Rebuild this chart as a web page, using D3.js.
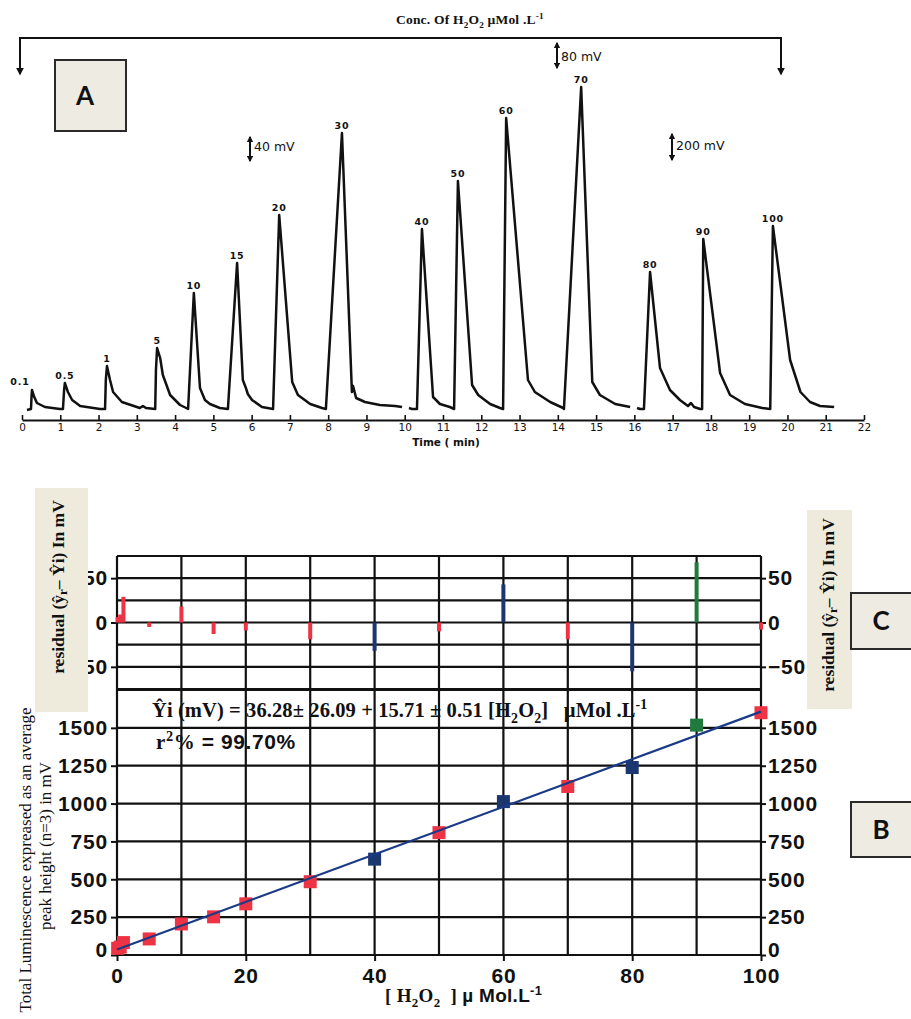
<!DOCTYPE html>
<html>
<head>
<meta charset="utf-8">
<script src="https://cdn.jsdelivr.net/npm/d3@7"></script>
<style>
    body { margin: 0; background: #ffffff; }
</style>
</head>
<body>
<svg id="chart" width="911" height="1019"></svg>
<script>
// ---------------------------------------------------------------------------
// Panel A data: chemiluminescence trace, time in min, height in relative units
// ---------------------------------------------------------------------------
const timeTicks = [0, 1, 2, 3, 4, 5, 6, 7, 8, 9, 10, 11, 12, 13, 14, 15, 16, 17, 18, 19, 20, 21, 22];

const peakLabels  = ["0.1", "0.5", "1", "5", "10", "15", "20", "30", "40", "50", "60", "70", "80", "90", "100"];
const peakTimes   = [0.26, 1.12, 2.22, 3.53, 4.49, 5.62, 6.72, 8.36, 10.45, 11.39, 12.65, 14.61, 16.41, 17.80, 19.62];
const peakHeights = [20, 27, 44, 62, 117, 147, 195, 277, 181, 229, 292, 323, 138, 171, 184];

// recorder trace, three pieces (the pen was lifted around 10 and 16 min)
const traceSeg1 = [
    [0.13, 0], [0.235, 1], [0.25, 14], [0.26, 20], [0.31, 14], [0.39, 7], [0.60, 3], [0.99, 1],
    [1.07, 1], [1.10, 20], [1.12, 27], [1.20, 18], [1.31, 10], [1.52, 4], [2.04, 1],
    [2.17, 1], [2.19, 30], [2.22, 44], [2.30, 30], [2.38, 18], [2.61, 8], [3.08, 2], [3.16, 4], [3.24, 2], [3.48, 1],
    [3.50, 40], [3.53, 62], [3.61, 52], [3.68, 35], [3.87, 15], [4.13, 5], [4.29, 2],
    [4.34, 1], [4.49, 117], [4.65, 22], [4.78, 10], [4.91, 6], [5.17, 2],
    [5.38, 1], [5.62, 147], [5.77, 30], [5.85, 22], [5.90, 16], [6.01, 10], [6.27, 3], [6.56, 1],
    [6.72, 195], [7.06, 28], [7.21, 15], [7.53, 6], [7.84, 2],
    [7.94, 1], [8.36, 277], [8.62, 18], [8.65, 24], [8.73, 12], [8.96, 8], [9.35, 5], [9.75, 4], [9.93, 3]
];
const traceSeg2 = [
    [10.11, 2], [10.19, 1], [10.32, 1], [10.45, 181], [10.74, 13], [10.92, 6], [11.18, 3],
    [11.29, 1], [11.39, 229], [11.76, 25], [11.92, 15], [12.23, 6], [12.49, 2],
    [12.57, 1], [12.65, 292], [13.22, 30], [13.40, 18], [13.80, 8], [14.14, 2],
    [14.16, 1], [14.61, 323], [14.90, 28], [15.10, 15], [15.50, 6], [15.89, 3]
];
const traceSeg3 = [
    [16.07, 2], [16.15, 1], [16.25, 1], [16.41, 138], [16.67, 42], [16.93, 20], [17.19, 10], [17.40, 4],
    [17.48, 7], [17.56, 3], [17.72, 1],
    [17.77, 1], [17.80, 171], [18.24, 37], [18.50, 15], [18.89, 6], [19.34, 2],
    [19.55, 1], [19.62, 184], [20.07, 50], [20.34, 18], [20.59, 8], [20.85, 4], [21.22, 3]
];

// ---------------------------------------------------------------------------
// Panel B / C data: calibration points and residuals
// ---------------------------------------------------------------------------
const concentrations = [0.1, 0.5, 1, 5, 10, 15, 20, 30, 40, 50, 60, 70, 80, 90, 100];
const luminescence   = [44, 52, 82, 106, 205, 252, 338, 484, 633, 808, 1013, 1113, 1238, 1518, 1600];
const residuals      = [6, 9, 29, -5, 18, -13, -9, -19, -32, -10, 43, -19, -55, 68, -8];
const pointGroups    = ["red", "red", "red", "red", "red", "red", "red", "red", "blue", "red", "blue", "red", "blue", "green", "red"];

const concTicks  = [0, 20, 40, 60, 80, 100];
const concGrid   = [0, 10, 20, 30, 40, 50, 60, 70, 80, 90, 100];
const lumTicks   = [0, 250, 500, 750, 1000, 1250, 1500];
const lumGrid    = [0, 250, 500, 750, 1000, 1250, 1500, 1750];
const residTicks = [-50, 0, 50];
const residGrid  = [-75, -50, -25, 0, 25, 50, 75];

const fitIntercept = 36.28;
const fitSlope = 15.71;

const groupColor = { red: "#ee3344", blue: "#1c3670", green: "#1f7a3b" };

const SERIF = "'Liberation Serif', 'Times New Roman', serif";
const SANS = "'Liberation Sans', Arial, sans-serif";
const VERD = "'DejaVu Sans', Verdana, sans-serif";

const svg = d3.select("#chart");

/**
 * addMarkers
 *
 * Purpose: arrow heads used for the scale bars and the bracket in panel A.
 */
function addMarkers(){
    const defs = svg.append("defs");
    defs.append("marker")
        .attr("id", "smallArrow")
        .attr("viewBox", "0 0 10 10")
        .attr("refX", 8).attr("refY", 5)
        .attr("markerWidth", 3.2).attr("markerHeight", 3.2)
        .attr("orient", "auto-start-reverse")
        .append("path").attr("d", "M0,0 L10,5 L0,10 z").attr("fill", "#111");
    defs.append("marker")
        .attr("id", "bigArrow")
        .attr("viewBox", "0 0 10 10")
        .attr("refX", 8).attr("refY", 5)
        .attr("markerWidth", 4).attr("markerHeight", 4)
        .attr("orient", "auto-start-reverse")
        .append("path").attr("d", "M0,0 L10,5 L0,10 z").attr("fill", "#111");
}

/**
 * richText
 *
 * Purpose: writes a text made of parts, some of them sub- or superscripts.
 */
function richText(parent, x, y, parts, size, spacing){
    const text = parent.append("text")
        .attr("x", x).attr("y", y)
        .attr("fill", "#111")
        .style("letter-spacing", (spacing || 0) + "px");
    let shift = 0;
    parts.forEach(p => {
        const target = p.sub ? size * 0.28 : p.sup ? -size * 0.38 : 0;
        text.append("tspan")
            .attr("dy", target - shift)
            .style("font-family", p.font || SERIF)
            .style("font-weight", p.weight || "bold")
            .style("font-size", (p.sub || p.sup ? size * 0.68 : size) + "px")
            .style("white-space", "pre")
            .text(p.t);
        shift = target;
    });
    return text;
}

/**
 * labelBox
 *
 * Purpose: beige boxes with a panel letter.
 */
function labelBox(x, y, w, h, letter){
    svg.append("rect")
        .attr("x", x).attr("y", y).attr("width", w).attr("height", h)
        .attr("fill", "#eeece2").attr("stroke", "#2a2a2a").attr("stroke-width", 2);
    svg.append("text")
        .attr("x", x + 30).attr("y", y + h / 2 + 9)
        .attr("text-anchor", "middle")
        .style("font-family", "Lato, 'Open Sans', sans-serif")
        .style("font-weight", "bold").style("font-size", "26px")
        .attr("fill", "#111")
        .text(letter);
}

/**
 * drawPanelA
 *
 * Purpose: the flow-injection recorder trace with its peak labels.
 */
function drawPanelA(){
    const tScale = d3.scaleLinear().domain([0, 22]).range([22, 864]);
    const hScale = d3.scaleLinear().domain([0, 330]).range([410, 80]);

    const g = svg.append("g");

    // title and bracket
    richText(g, 396, 24, [
        { t: "Conc. Of H" }, { t: "2", sub: true }, { t: "O" }, { t: "2", sub: true },
        { t: " µMol .L" }, { t: "-1", sup: true }
    ], 13.5, 0.2);

    g.append("path")
        .attr("d", "M20,74 L20,38 L781,38 L781,74")
        .attr("fill", "none").attr("stroke", "#111").attr("stroke-width", 2)
        .attr("marker-start", "url(#bigArrow)").attr("marker-end", "url(#bigArrow)");

    // scale bars
    const bars = [
        { x: 250, y1: 137, y2: 161, label: "40 mV", ty: 151 },
        { x: 557, y1: 43, y2: 68, label: "80 mV", ty: 61 },
        { x: 672, y1: 134, y2: 160, label: "200 mV", ty: 150 }
    ];
    bars.forEach(b => {
        g.append("line")
            .attr("x1", b.x).attr("x2", b.x).attr("y1", b.y1).attr("y2", b.y2)
            .attr("stroke", "#111").attr("stroke-width", 2)
            .attr("marker-start", "url(#smallArrow)").attr("marker-end", "url(#smallArrow)");
        g.append("text")
            .attr("x", b.x + 4).attr("y", b.ty)
            .style("font-family", VERD).style("font-size", "12.5px")
            .attr("fill", "#111")
            .text(b.label);
    });

    // trace
    const line = d3.line()
        .x(d => tScale(d[0]))
        .y(d => hScale(d[1]));

    [traceSeg1, traceSeg2, traceSeg3].forEach(seg => {
        g.append("path")
            .datum(seg)
            .attr("d", line)
            .attr("fill", "none")
            .attr("stroke", "#111")
            .attr("stroke-width", 2.5)
            .attr("stroke-linejoin", "round");
    });

    // peak labels (the first two sit a bit to the left of their peak)
    g.selectAll(".peakLabel")
        .data(peakLabels)
        .enter()
        .append("text")
            .attr("class", "peakLabel")
            .attr("x", (d, i) => tScale(peakTimes[i]) - (i === 0 ? 12 : 0))
            .attr("y", (d, i) => hScale(peakHeights[i]) - (i === 0 ? 5 : 4))
            .attr("text-anchor", "middle")
            .style("font-family", VERD).style("font-weight", "bold")
            .style("font-size", "9.5px").style("letter-spacing", "0.8px")
            .attr("fill", "#111")
            .text(d => d);

    // time axis
    const axis = g.append("g")
        .attr("transform", "translate(0,420)")
        .call(d3.axisBottom(tScale).tickValues(timeTicks).tickSizeInner(-5).tickSizeOuter(0).tickPadding(4));
    axis.select(".domain").attr("stroke", "#111").attr("stroke-width", 2);
    axis.selectAll(".tick line").attr("stroke", "#111").attr("stroke-width", 1.6);
    axis.selectAll(".tick text")
        .style("font-family", VERD).style("font-size", "10.5px").attr("fill", "#111");

    g.append("text")
        .attr("x", 446).attr("y", 446)
        .attr("text-anchor", "middle")
        .style("font-family", VERD).style("font-weight", "bold").style("font-size", "10.5px")
        .attr("fill", "#111")
        .text("Time ( min)");

    labelBox(55, 60, 71, 71, "A");
}

/**
 * styleAxis
 *
 * Purpose: bold tick labels for the calibration and residual axes.
 */
function styleAxis(axis){
    axis.select(".domain").remove();
    axis.selectAll(".tick line").attr("stroke", "#111").attr("stroke-width", 2);
    axis.selectAll(".tick text")
        .style("font-family", SANS).style("font-weight", "bold")
        .style("font-size", "21px").style("letter-spacing", "0.8px")
        .attr("fill", "#111");
    return axis;
}

/**
 * drawPanelsBC
 *
 * Purpose: the calibration graph (B) and its residual plot (C) on one grid.
 */
function drawPanelsBC(){
    const cScale = d3.scaleLinear().domain([0, 100]).range([117, 761]);
    const rScale = d3.scaleLinear().domain([-75, 75]).range([689, 556]);
    const lScale = d3.scaleLinear().domain([0, 1750]).range([955, 690]);

    const g = svg.append("g");

    // grid
    g.selectAll(".vGrid")
        .data(concGrid)
        .enter()
        .append("line")
            .attr("x1", d => cScale(d)).attr("x2", d => cScale(d))
            .attr("y1", rScale(75)).attr("y2", lScale(0))
            .attr("stroke", "#111").attr("stroke-width", 2.2);
    g.selectAll(".rGrid")
        .data(residGrid)
        .enter()
        .append("line")
            .attr("x1", cScale(0)).attr("x2", cScale(100))
            .attr("y1", d => rScale(d)).attr("y2", d => rScale(d))
            .attr("stroke", "#111").attr("stroke-width", 2.2);
    g.selectAll(".lGrid")
        .data(lumGrid)
        .enter()
        .append("line")
            .attr("x1", cScale(0)).attr("x2", cScale(100))
            .attr("y1", d => lScale(d)).attr("y2", d => lScale(d))
            .attr("stroke", "#111").attr("stroke-width", 2.2);

    // axes
    const fmt = d3.format("d");
    styleAxis(g.append("g").attr("transform", "translate(117,0)")
        .call(d3.axisLeft(rScale).tickValues(residTicks).tickFormat(fmt).tickSize(6).tickPadding(3)));
    styleAxis(g.append("g").attr("transform", "translate(761,0)")
        .call(d3.axisRight(rScale).tickValues(residTicks).tickFormat(fmt).tickSize(5).tickPadding(2)));
    const lumLeft = styleAxis(g.append("g").attr("transform", "translate(117,0)")
        .call(d3.axisLeft(lScale).tickValues(lumTicks).tickFormat(fmt).tickSize(6).tickPadding(3)));
    const lumRight = styleAxis(g.append("g").attr("transform", "translate(761,0)")
        .call(d3.axisRight(lScale).tickValues(lumTicks).tickFormat(fmt).tickSize(5).tickPadding(2)));
    styleAxis(g.append("g").attr("transform", "translate(0,955)")
        .call(d3.axisBottom(cScale).tickValues(concTicks).tickFormat(fmt).tickSize(6).tickPadding(7)));

    // the zero labels sit a little above the bottom line
    [lumLeft, lumRight].forEach(a => {
        a.selectAll(".tick text").filter(d => d === 0).attr("dy", "0.08em");
    });

    // residual bars
    g.selectAll(".resid")
        .data(residuals)
        .enter()
        .append("rect")
            .attr("x", (d, i) => cScale(concentrations[i]) - 2)
            .attr("y", d => Math.min(rScale(d), rScale(0)))
            .attr("width", 4)
            .attr("height", d => Math.abs(rScale(d) - rScale(0)))
            .attr("fill", (d, i) => groupColor[pointGroups[i]]);

    // calibration squares
    g.selectAll(".point")
        .data(luminescence)
        .enter()
        .append("rect")
            .attr("x", (d, i) => cScale(concentrations[i]) - 6.5)
            .attr("y", d => lScale(d) - 6.5)
            .attr("width", 13).attr("height", 13)
            .attr("fill", (d, i) => groupColor[pointGroups[i]]);

    // fitted line
    g.append("line")
        .attr("x1", cScale(0)).attr("y1", lScale(fitIntercept))
        .attr("x2", cScale(100)).attr("y2", lScale(fitIntercept + fitSlope * 100))
        .attr("stroke", "#1b3a86").attr("stroke-width", 2.2);

    // equation and r2
    richText(g, 152, 717, [
        { t: "Ŷi (mV) = 36.28± 26.09 + 15.71 ± 0.51 [H" }, { t: "2", sub: true },
        { t: "O" }, { t: "2", sub: true }, { t: "]   µMol .L" }, { t: "-1", sup: true }
    ], 20.5, 0.1);
    richText(g, 156, 749, [
        { t: "r" }, { t: "2", sup: true }, { t: "%", font: SERIF },
        { t: " = 99.70%", font: SANS }
    ], 21, 0.6);

    // x title
    richText(g, 385, 1002, [
        { t: "[ H" }, { t: "2", sub: true }, { t: "O" }, { t: "2", sub: true },
        { t: "  ] " }, { t: "µ Mol.L", font: SANS }, { t: "-1", sup: true, font: SANS }
    ], 19, 0.3);

    // left y titles
    g.append("text")
        .attr("transform", "translate(31,860) rotate(-90)")
        .attr("text-anchor", "middle")
        .style("font-family", SERIF).style("font-size", "17px")
        .attr("fill", "#111")
        .text("Total Luminescence expreased as an average");
    g.append("text")
        .attr("transform", "translate(51,846) rotate(-90)")
        .attr("text-anchor", "middle")
        .style("font-family", SERIF).style("font-size", "17px")
        .attr("fill", "#111")
        .text("peak height (n=3) in mV");

    // residual title boxes
    [{ x: 35, y: 488, w: 53, h: 224, cx: 64, cy: 587 },
     { x: 807, y: 510, w: 45, h: 199, cx: 834, cy: 605 }].forEach(b => {
        svg.append("rect")
            .attr("x", b.x).attr("y", b.y).attr("width", b.w).attr("height", b.h)
            .attr("fill", "#eeebdd");
        const t = svg.append("text")
            .attr("transform", "translate(" + b.cx + "," + b.cy + ") rotate(-90)")
            .attr("text-anchor", "middle")
            .style("font-family", SERIF).style("font-weight", "bold").style("font-size", "17.5px")
            .attr("fill", "#111");
        t.append("tspan").text("residual (ŷ");
        t.append("tspan").attr("dy", 3).style("font-size", "13px").text("r");
        t.append("tspan").attr("dy", -3).text("– Ŷi) In mV");
    });

    labelBox(851, 802, 70, 55, "B");
    labelBox(851, 593, 70, 56, "C");
}

addMarkers();
drawPanelA();
drawPanelsBC();
</script>
</body>
</html>
